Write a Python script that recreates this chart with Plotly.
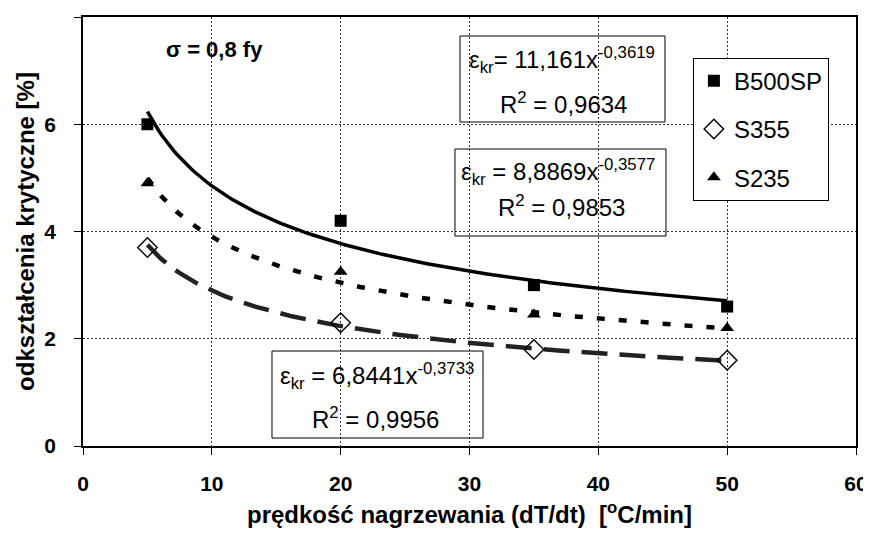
import numpy as np
import plotly.graph_objects as go

# ---- data ----
rates = [5, 20, 35, 50]
b500sp = [6.0, 4.2, 3.0, 2.6]
s355 = [3.7, 2.3, 1.8, 1.6]
s235 = [4.9, 3.25, 2.45, 2.2]

series_names = ["B500SP", "S355", "S235"]
# power trendline coefficients (a * x^b) as shown in chart
fit_a = [11.161, 6.8441, 8.8869]
fit_b = [-0.3619, -0.3733, -0.3577]
fit_r2 = ["0,9634", "0,9956", "0,9853"]
fit_a_txt = ["11,161", "6,8441", "8,8869"]
fit_b_txt = ["-0,3619", "-0,3733", "-0,3577"]

x_ticks = [0, 10, 20, 30, 40, 50, 60]
y_ticks = [0, 2, 4, 6, 8]

FONT = "Liberation Sans, Arial, sans-serif"

fig = go.Figure()

xs = np.linspace(min(rates), max(rates), 200)
line_styles = [
    dict(color="black", width=3.5, dash="solid"),
    dict(color="#222222", width=4.5, dash="26px,12px"),
    dict(color="black", width=4.5, dash="8px,14px"),
]
for a, b, ls in zip(fit_a, fit_b, line_styles):
    fig.add_trace(go.Scatter(x=xs, y=a * xs ** b, mode="lines", line=ls,
                             showlegend=False, hoverinfo="skip"))

marker_styles = [
    dict(symbol="square", size=12, color="black"),
    dict(symbol="diamond-open", size=15, color="black", line=dict(width=1.4, color="black")),
    dict(symbol="triangle-up", size=12, color="black"),
]
for name, vals, ms in zip(series_names, [b500sp, s355, s235], marker_styles):
    fig.add_trace(go.Scatter(x=rates, y=vals, mode="markers", name=name,
                             marker=ms, legendgroup=name))

# equation boxes (paper coords): rect + two text lines
boxes = [
    dict(rect=(0.4877, 0.7552, 0.7529, 0.9557), l1=(0.6197, 0.8998), l2=(0.621, 0.7995), sep="= "),
    dict(rect=(0.2445, 0.0186, 0.5175, 0.2214), l1=(0.3803, 0.1632), l2=(0.379, 0.0653), sep=" = "),
    dict(rect=(0.4812, 0.4895, 0.7542, 0.6923), l1=(0.6145, 0.6387), l2=(0.6184, 0.5594), sep=" = "),
]
for i, bx in enumerate(boxes):
    x0, y0, x1, y1 = bx["rect"]
    fig.add_shape(type="rect", xref="paper", yref="paper", x0=x0, y0=y0, x1=x1, y1=y1,
                  line=dict(color="black", width=1), fillcolor="rgba(0,0,0,0)")
    t1 = "ε<sub>kr</sub>" + bx["sep"] + fit_a_txt[i] + "x<sup>" + fit_b_txt[i] + "</sup>"
    t2 = "R<sup>2</sup> = " + fit_r2[i]
    for (px, py), t in [(bx["l1"], t1), (bx["l2"], t2)]:
        fig.add_annotation(x=px, y=py, xref="paper", yref="paper", text=t, showarrow=False,
                           xanchor="center", yanchor="middle",
                           font=dict(family=FONT, size=24, color="black"))

fig.add_annotation(x=0.1695, y=0.9231, xref="paper", yref="paper", text="<b>σ = 0,8 fy</b>",
                   showarrow=False, xanchor="center", yanchor="middle",
                   font=dict(family=FONT, size=22, color="black"))

tick_font = dict(family=FONT, size=21, color="black")

# page body has an 8px margin, so the figure is smaller and margins compensate
fig.update_layout(
    width=863, height=521,
    margin=dict(l=75, r=15, t=9, b=83),
    paper_bgcolor="white", plot_bgcolor="white",
    font=dict(family=FONT, color="black"),
    legend=dict(x=0.789, y=0.905, xanchor="left", yanchor="top",
                bordercolor="black", borderwidth=1, bgcolor="white",
                font=dict(family=FONT, size=24, color="black"),
                traceorder="grouped", tracegroupgap=14, itemwidth=30),
    xaxis=dict(range=[0, 60], tickvals=x_ticks, ticktext=["<b>%d</b>" % v for v in x_ticks],
               showgrid=True, gridcolor="#333333",
               griddash="2px,2px", gridwidth=1, zeroline=False, showline=True,
               linecolor="black", linewidth=1.5, mirror=True, ticks="outside",
               ticklen=7, tickcolor="black", ticklabelstandoff=11, automargin=False,
               tickfont=tick_font,
               title=dict(text="<b>prędkość nagrzewania (dT/dt)&nbsp;&nbsp;[<sup>o</sup>C/min]</b>",
                          font=dict(family=FONT, size=24, color="black"), standoff=12)),
    yaxis=dict(range=[0, 8], tickvals=y_ticks, ticktext=["<b>%d</b>" % v for v in y_ticks],
               showgrid=True, gridcolor="#333333",
               griddash="2px,2px", gridwidth=1, zeroline=False, showline=True,
               linecolor="black", linewidth=1.5, mirror=True, ticks="outside",
               ticklen=7, tickcolor="black", ticklabelstandoff=14, automargin=False,
               tickfont=tick_font,
               title=dict(text="<b>odkształcenia krytyczne [%]</b>",
                          font=dict(family=FONT, size=24, color="black"), standoff=3)),
)

fig.write_html("out.html")
